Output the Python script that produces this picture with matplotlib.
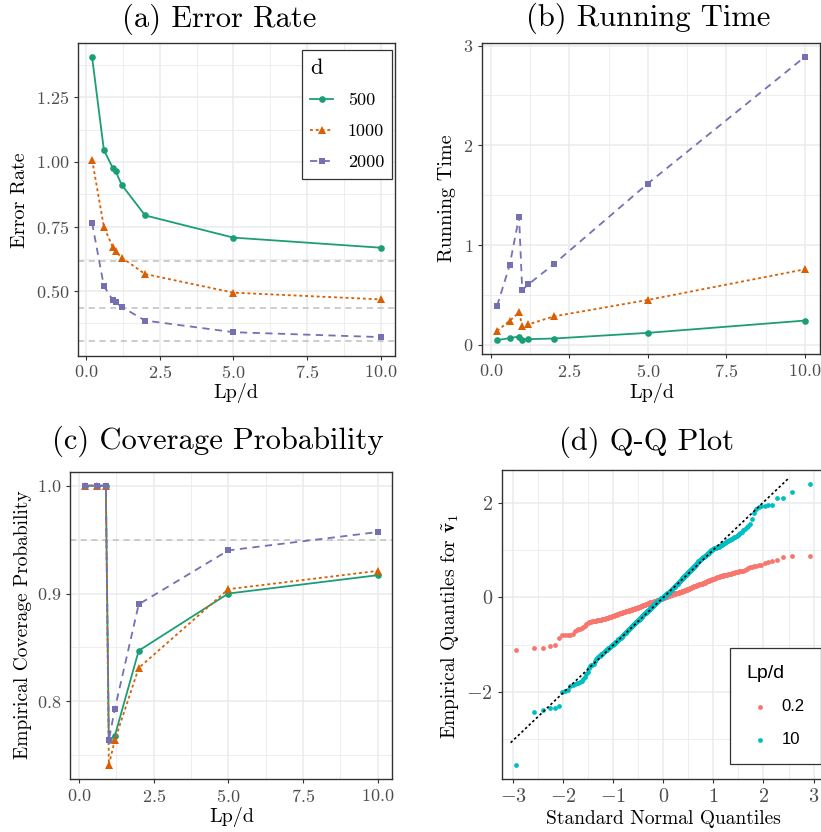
import matplotlib
matplotlib.use('Agg')
import matplotlib.pyplot as plt
from matplotlib.ticker import MultipleLocator
from statistics import NormalDist

plt.rcParams['font.family'] = 'cmr10'
plt.rcParams['mathtext.fontset'] = 'cm'
plt.rcParams['axes.formatter.use_mathtext'] = True

# Lp/d values on the x axis of panels a-c
ratio = [0.2, 0.6, 0.9, 1.0, 1.2, 2, 5, 10]
dims = ['500', '1000', '2000']

err_500 = [1.404, 1.046, 0.977, 0.964, 0.912, 0.793, 0.707, 0.668]
err_1000 = [1.008, 0.748, 0.671, 0.654, 0.630, 0.566, 0.494, 0.468]
err_2000 = [0.764, 0.519, 0.466, 0.456, 0.439, 0.386, 0.341, 0.322]
err_limits = [0.615, 0.435, 0.305]

time_500 = [0.047, 0.067, 0.083, 0.053, 0.057, 0.063, 0.120, 0.243]
time_1000 = [0.140, 0.240, 0.325, 0.192, 0.205, 0.285, 0.450, 0.757]
time_2000 = [0.390, 0.797, 1.283, 0.550, 0.607, 0.807, 1.617, 2.887]

cov_500 = [1.0, 1.0, 1.0, 0.764, 0.768, 0.847, 0.900, 0.917]
cov_1000 = [1.0, 1.0, 1.0, 0.741, 0.764, 0.831, 0.904, 0.921]
cov_2000 = [1.0, 1.0, 1.0, 0.764, 0.793, 0.890, 0.940, 0.957]
cov_nominal = 0.95

# sorted sample quantiles (300 each) for the Q-Q plot
qq_groups = ['0.2', '10']
qq_02 = [
    -1.12, -1.08, -1.07, -1.03, -1.00, -0.86, -0.80, -0.80, -0.79, -0.79,
    -0.78, -0.72, -0.70, -0.68, -0.66, -0.64, -0.62, -0.60, -0.57, -0.54,
    -0.53, -0.52, -0.52, -0.51, -0.51, -0.50, -0.50, -0.49, -0.49, -0.48,
    -0.48, -0.47, -0.47, -0.46, -0.46, -0.45, -0.45, -0.44, -0.44, -0.43,
    -0.43, -0.42, -0.42, -0.41, -0.41, -0.40, -0.40, -0.39, -0.39, -0.38,
    -0.38, -0.37, -0.37, -0.36, -0.36, -0.35, -0.35, -0.34, -0.34, -0.33,
    -0.33, -0.33, -0.32, -0.32, -0.31, -0.31, -0.31, -0.30, -0.30, -0.29,
    -0.29, -0.29, -0.28, -0.28, -0.27, -0.27, -0.27, -0.26, -0.26, -0.26,
    -0.25, -0.25, -0.25, -0.24, -0.24, -0.24, -0.23, -0.23, -0.23, -0.22,
    -0.22, -0.22, -0.21, -0.21, -0.20, -0.20, -0.20, -0.19, -0.19, -0.18,
    -0.18, -0.18, -0.17, -0.17, -0.17, -0.16, -0.16, -0.16, -0.15, -0.15,
    -0.15, -0.14, -0.14, -0.14, -0.13, -0.13, -0.12, -0.12, -0.12, -0.11,
    -0.11, -0.11, -0.10, -0.10, -0.10, -0.09, -0.09, -0.09, -0.08, -0.08,
    -0.08, -0.07, -0.07, -0.07, -0.06, -0.06, -0.06, -0.05, -0.05, -0.05,
    -0.05, -0.04, -0.04, -0.04, -0.03, -0.03, -0.03, -0.02, -0.02, -0.02,
    -0.01, -0.01, -0.01, 0.00, 0.00, 0.00, 0.01, 0.01, 0.01, 0.02,
    0.02, 0.02, 0.03, 0.03, 0.03, 0.04, 0.04, 0.04, 0.05, 0.05,
    0.05, 0.06, 0.06, 0.06, 0.07, 0.07, 0.07, 0.07, 0.08, 0.08,
    0.08, 0.09, 0.09, 0.09, 0.10, 0.10, 0.10, 0.11, 0.11, 0.11,
    0.12, 0.12, 0.12, 0.13, 0.13, 0.13, 0.14, 0.14, 0.14, 0.15,
    0.15, 0.15, 0.16, 0.16, 0.16, 0.17, 0.17, 0.17, 0.18, 0.18,
    0.19, 0.19, 0.20, 0.20, 0.21, 0.21, 0.22, 0.22, 0.23, 0.23,
    0.23, 0.24, 0.24, 0.24, 0.25, 0.25, 0.26, 0.26, 0.27, 0.27,
    0.28, 0.28, 0.28, 0.29, 0.29, 0.30, 0.30, 0.31, 0.31, 0.32,
    0.33, 0.33, 0.34, 0.34, 0.35, 0.35, 0.36, 0.36, 0.37, 0.37,
    0.38, 0.38, 0.39, 0.39, 0.40, 0.40, 0.41, 0.42, 0.42, 0.43,
    0.43, 0.44, 0.44, 0.45, 0.45, 0.46, 0.46, 0.47, 0.47, 0.48,
    0.49, 0.49, 0.50, 0.50, 0.51, 0.52, 0.52, 0.53, 0.53, 0.54,
    0.55, 0.55, 0.56, 0.56, 0.57, 0.60, 0.62, 0.63, 0.64, 0.66,
    0.67, 0.68, 0.69, 0.72, 0.75, 0.77, 0.79, 0.84, 0.88, 0.88,
]
qq_10 = [
    -3.54, -2.42, -2.38, -2.34, -2.34, -2.29, -2.01, -1.98, -1.95, -1.88,
    -1.86, -1.84, -1.82, -1.80, -1.79, -1.76, -1.72, -1.68, -1.62, -1.57,
    -1.50, -1.45, -1.43, -1.42, -1.40, -1.35, -1.30, -1.28, -1.26, -1.25,
    -1.24, -1.22, -1.20, -1.19, -1.17, -1.16, -1.14, -1.12, -1.11, -1.10,
    -1.08, -1.07, -1.05, -1.04, -1.03, -1.01, -1.00, -0.99, -0.98, -0.97,
    -0.95, -0.94, -0.93, -0.92, -0.91, -0.89, -0.88, -0.87, -0.86, -0.85,
    -0.83, -0.82, -0.80, -0.79, -0.78, -0.77, -0.76, -0.75, -0.73, -0.72,
    -0.71, -0.70, -0.69, -0.68, -0.66, -0.65, -0.64, -0.63, -0.62, -0.61,
    -0.60, -0.59, -0.58, -0.57, -0.56, -0.55, -0.54, -0.53, -0.52, -0.51,
    -0.50, -0.49, -0.48, -0.47, -0.46, -0.45, -0.44, -0.43, -0.42, -0.41,
    -0.40, -0.39, -0.38, -0.37, -0.36, -0.35, -0.34, -0.34, -0.33, -0.32,
    -0.31, -0.30, -0.29, -0.28, -0.27, -0.27, -0.26, -0.25, -0.24, -0.23,
    -0.22, -0.21, -0.20, -0.20, -0.19, -0.18, -0.17, -0.16, -0.15, -0.14,
    -0.13, -0.12, -0.11, -0.11, -0.10, -0.09, -0.08, -0.07, -0.06, -0.05,
    -0.05, -0.04, -0.03, -0.03, -0.02, -0.02, -0.01, -0.01, 0.00, 0.00,
    0.01, 0.01, 0.02, 0.03, 0.04, 0.05, 0.05, 0.06, 0.07, 0.08,
    0.09, 0.10, 0.10, 0.11, 0.12, 0.13, 0.14, 0.15, 0.15, 0.16,
    0.17, 0.18, 0.19, 0.20, 0.21, 0.21, 0.22, 0.23, 0.24, 0.25,
    0.26, 0.27, 0.28, 0.29, 0.30, 0.31, 0.32, 0.33, 0.34, 0.35,
    0.36, 0.37, 0.38, 0.39, 0.40, 0.41, 0.42, 0.43, 0.44, 0.45,
    0.46, 0.47, 0.48, 0.49, 0.50, 0.51, 0.52, 0.53, 0.54, 0.55,
    0.56, 0.57, 0.58, 0.59, 0.60, 0.61, 0.62, 0.63, 0.64, 0.66,
    0.67, 0.68, 0.69, 0.70, 0.72, 0.73, 0.74, 0.76, 0.77, 0.78,
    0.79, 0.80, 0.81, 0.82, 0.83, 0.84, 0.85, 0.86, 0.87, 0.88,
    0.89, 0.90, 0.91, 0.92, 0.93, 0.94, 0.95, 0.97, 0.98, 0.99,
    1.00, 1.01, 1.02, 1.03, 1.04, 1.05, 1.05, 1.06, 1.07, 1.07,
    1.08, 1.09, 1.10, 1.11, 1.12, 1.13, 1.14, 1.15, 1.16, 1.18,
    1.19, 1.20, 1.21, 1.23, 1.24, 1.25, 1.27, 1.28, 1.30, 1.32,
    1.34, 1.36, 1.38, 1.41, 1.45, 1.48, 1.51, 1.55, 1.65, 1.78,
    1.87, 1.90, 1.92, 1.93, 1.94, 1.95, 2.09, 2.09, 2.23, 2.39,
]
qq_line_x = [-3.05, 2.52]
qq_line_y = [-3.07, 2.53]

W, H = 821, 832
dark2 = ['#1B9E77', '#D95F02', '#7570B3']
markers = ['o', '^', 's']
msizes = [4.8, 5.8, 4.6]
lstyles = ['-', (0, (1.6, 1.6)), (0, (4, 3))]
hue = ['#F8766D', '#00BFC4']


def box(l, t, r, b):
    return [l / W, 1 - b / H, (r - l) / W, (b - t) / H]


def expand(vals, f=0.05):
    lo, hi = min(vals), max(vals)
    d = (hi - lo) * f
    return lo - d, hi + d


def style(ax, xmaj, xmin, ymaj, ymin, size=13):
    ax.set_axisbelow(True)
    ax.xaxis.set_major_locator(MultipleLocator(xmaj))
    ax.xaxis.set_minor_locator(MultipleLocator(xmin))
    ax.yaxis.set_major_locator(MultipleLocator(ymaj))
    ax.yaxis.set_minor_locator(MultipleLocator(ymin))
    ax.grid(which='major', color='#EBEBEB', lw=1.1)
    ax.grid(which='minor', color='#EBEBEB', lw=0.6)
    for s in ax.spines.values():
        s.set_color('#333333')
        s.set_linewidth(1.0)
    ax.tick_params(which='major', length=3.2, width=0.8, color='#333333',
                   labelcolor='#4D4D4D', labelsize=size, pad=3)
    ax.tick_params(which='minor', length=0)


def label(x, y, text, size, rot=0):
    fig.text(x / W, 1 - y / H, text, ha='center', va='center',
             fontsize=size, rotation=rot)


def lines(ax, series):
    for k, ys in enumerate(series):
        ax.plot(ratio, ys, color=dark2[k], marker=markers[k], ms=msizes[k],
                mew=0, lw=1.3, linestyle=lstyles[k], label=dims[k])


fig = plt.figure(figsize=(W / 100, H / 100), dpi=100)

# (a) error rate
ax = fig.add_axes(box(77.7, 43.3, 395, 355.7))
for v in err_limits:
    ax.axhline(v, color='#BEBEBE', lw=1.1, linestyle=(0, (4, 3)))
lines(ax, [err_500, err_1000, err_2000])
ax.set_xlim(expand(ratio))
ax.set_ylim(expand(err_500 + err_1000 + err_2000 + err_limits))
style(ax, 2.5, 1.25, 0.25, 0.125)
leg = ax.legend(title='d', loc='upper left', bbox_to_anchor=(0.706, 0.979),
                borderaxespad=0, fontsize=13, title_fontsize=16,
                handlelength=1.3, handletextpad=0.8, labelspacing=0.85,
                borderpad=0.45, fancybox=False, framealpha=1, alignment='left')
leg.get_frame().set_edgecolor('#333333')
leg.get_frame().set_linewidth(0.9)
label(219, 19, '(a) Error Rate', 22)
label(20, 200, 'Error Rate', 14.5, 90)
label(236, 393, 'Lp/d', 14.5)

# (b) running time
ax = fig.add_axes(box(481.7, 42.7, 820.2, 354.3))
lines(ax, [time_500, time_1000, time_2000])
ax.set_xlim(expand(ratio))
ax.set_ylim(expand(time_500 + time_1000 + time_2000))
style(ax, 2.5, 1.25, 1, 0.5)
label(648, 18, '(b) Running Time', 22)
label(446.7, 198, 'Running Time', 14.5, 90)
label(651.7, 393, 'Lp/d', 14.5)

# (c) coverage probability
ax = fig.add_axes(box(70.3, 471.7, 392.3, 779))
ax.axhline(cov_nominal, color='#BEBEBE', lw=1.1, linestyle=(0, (4, 3)))
lines(ax, [cov_500, cov_1000, cov_2000])
ax.set_xlim(expand(ratio))
ax.set_ylim(expand(cov_500 + cov_1000 + cov_2000))
style(ax, 2.5, 1.25, 0.1, 0.05)
label(218, 441.7, '(c) Coverage Probability', 22)
label(23.3, 625, 'Empirical Coverage Probability', 14, 90)
label(231.7, 816.7, 'Lp/d', 14.5)

# (d) Q-Q plot
n = len(qq_10)
theo = [NormalDist().inv_cdf((i + 0.5) / n) for i in range(n)]
ax = fig.add_axes(box(501.7, 470, 825, 779))
ax.scatter(theo, qq_02, s=12, color=hue[0], linewidths=0, label=qq_groups[0])
ax.scatter(theo, qq_10, s=12, color=hue[1], linewidths=0, label=qq_groups[1])
ax.plot(qq_line_x, qq_line_y, color='black', lw=1.2, linestyle=(0, (1.5, 1.5)))
ax.set_xlim(expand(theo))
ax.set_ylim(expand(qq_02 + qq_10))
style(ax, 1, 0.5, 2, 1, size=14.5)
leg = ax.legend(title='Lp/d', loc='upper left', bbox_to_anchor=(0.706, 0.423),
                borderaxespad=0, prop={'family': 'Liberation Sans', 'size': 12},
                title_fontproperties={'family': 'Liberation Sans', 'size': 14},
                handlelength=1.6, handletextpad=0.5, labelspacing=1.05,
                borderpad=1.0, fancybox=False, framealpha=1, alignment='left')
leg.get_frame().set_edgecolor('#333333')
leg.get_frame().set_linewidth(0.9)
label(646.7, 442.7, '(d) Q-Q Plot', 22)
label(450, 626.7, r'Empirical Quantiles for $\tilde{\mathbf{v}}_1$', 14, 90)
label(663.3, 819, 'Standard Normal Quantiles', 14)

fig.savefig('out.png', dpi=100)
